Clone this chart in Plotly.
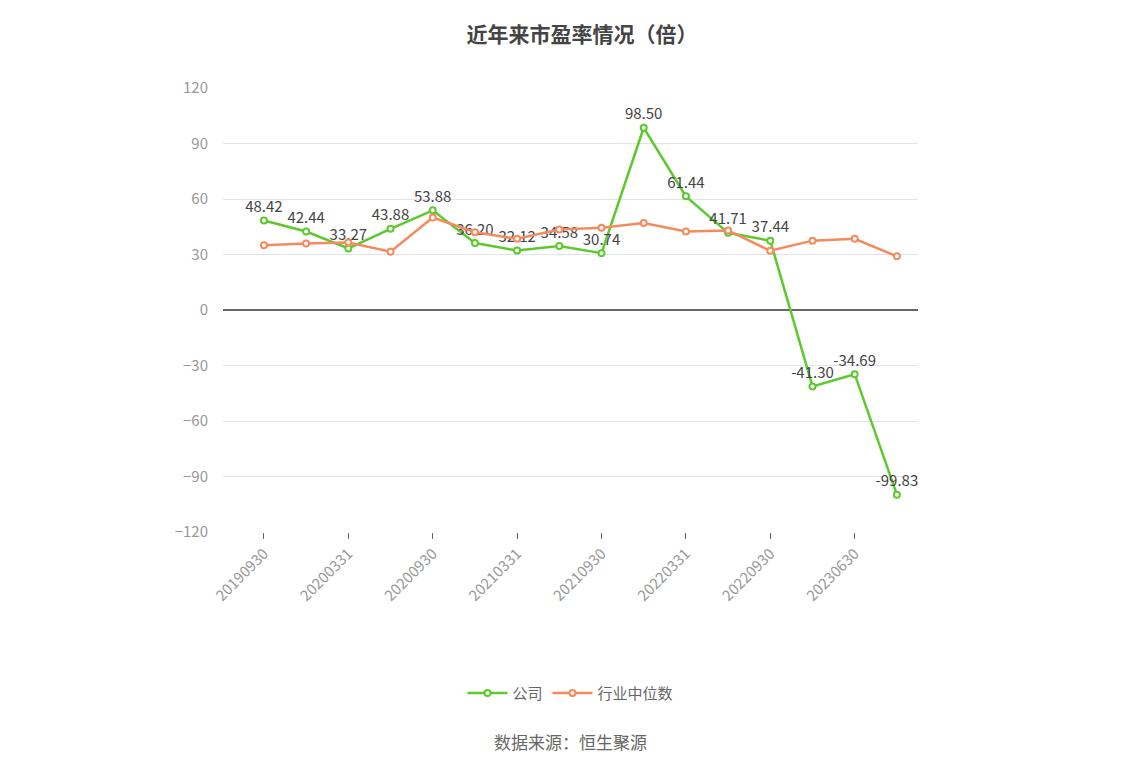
import plotly.graph_objects as go

#Data
dates = ['20190930', '20191231', '20200331', '20200630', '20200930', '20201231',
         '20210331', '20210630', '20210930', '20211231', '20220331', '20220630',
         '20220930', '20230331', '20230630', '20230930']
company = [48.42, 42.44, 33.27, 43.88, 53.88, 36.20, 32.12, 34.58, 30.74, 98.50,
           61.44, 41.71, 37.44, -41.30, -34.69, -99.83]
industry = [35.0, 36.0, 36.5, 31.5, 50.0, 42.0, 38.5, 43.5, 44.5, 47.0,
            42.5, 43.0, 32.0, 37.5, 38.5, 29.0]
tick_labels = dates[0:13:2] + ['20230630']

xs = list(range(len(dates)))

fig = go.Figure()
fig.add_trace(go.Scatter(
    x=xs, y=company, name='公司', mode='lines+markers+text',
    line=dict(color='#5cc92d', width=2.5),
    marker=dict(size=6, color='white', line=dict(color='#5cc92d', width=2)),
    text=['%.2f' % v for v in company], textposition='top center',
    textfont=dict(size=15, color='#444'),
))
fig.add_trace(go.Scatter(
    x=xs, y=industry, name='行业中位数', mode='lines+markers',
    line=dict(color='#f58b5c', width=2.5),
    marker=dict(size=6, color='white', line=dict(color='#f58b5c', width=2)),
))

fig.update_layout(
    width=1148, height=776, plot_bgcolor='white', paper_bgcolor='white',
    font=dict(family='Noto Sans CJK SC', color='#666'),
    title=dict(text='<b>近年来市盈率情况（倍）</b>', x=0.5, y=0.975,
               font=dict(size=21, color='#444')),
    margin=dict(l=215, r=238, t=80, b=252, autoexpand=False),
    showlegend=True,
    legend=dict(orientation='h', x=0.5, xanchor='center', yref='container',
                y=0.117, yanchor='middle', font=dict(size=15, color='#666'),
                itemwidth=40),
    xaxis=dict(range=[-0.97, 15.5], tickvals=[0, 2, 4, 6, 8, 10, 12, 14],
               ticktext=tick_labels, tickangle=-45, ticks='outside',
               ticklen=6, tickcolor='#666', showgrid=False,
               tickfont=dict(size=15, color='#999'), zeroline=False),
    yaxis=dict(range=[-120, 120], dtick=30, gridcolor='#e0e3ec',
               zeroline=True, zerolinecolor='#666', zerolinewidth=1.5,
               tickfont=dict(size=15, color='#999'), ticks='', ticklabelstandoff=14),
)
fig.add_annotation(text='数据来源：恒生聚源', xref='paper', yref='paper',
                   x=0.5, y=-0.505, showarrow=False,
                   font=dict(size=17, color='#666'))

fig.write_html('out.html')
